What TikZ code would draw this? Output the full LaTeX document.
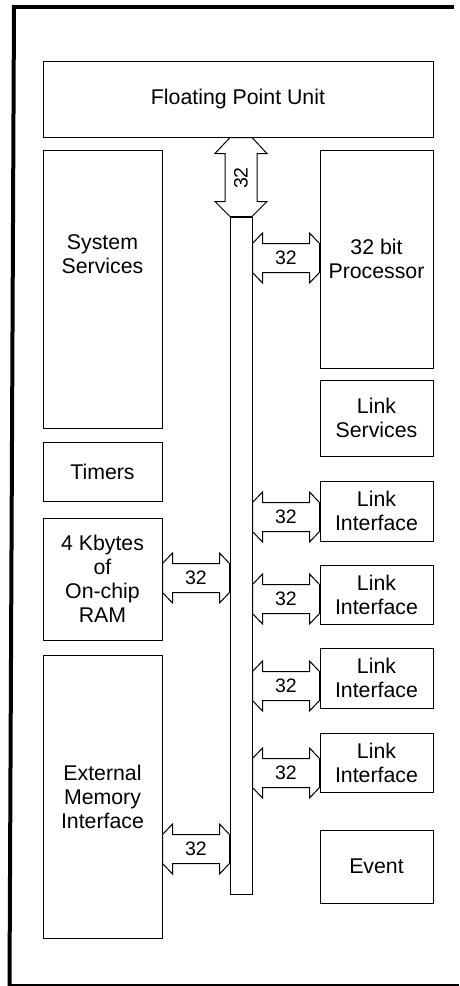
\documentclass[tikz,border=0pt]{standalone}
\usepackage{fontspec}
\setmainfont{Liberation Sans}
\usetikzlibrary{calc}
\newcommand\hbus[5]{%
  \path let \p1=(#1), \p2=(#2), \p3=(0,#3) in
    [arr] (\x1,\y3+14.5pt) -- (\x1+10pt,\y3+25pt) -- (\x1+10pt,\y3+14.5pt)
      -- (\x2-10pt,\y3+14.5pt) -- (\x2-10pt,\y3+25pt) -- (\x2,\y3+14.5pt)
      -- (\x2,\y3-14.5pt) -- (\x2-10pt,\y3-25pt) -- (\x2-10pt,\y3-14.5pt)
      -- (\x1+10pt,\y3-14.5pt) -- (\x1+10pt,\y3-25pt) -- (\x1,\y3-14.5pt) -- cycle
    (\x1/2+\x2/2+#5,\y3) node[lab] (#4) {32};
}
\begin{document}
\begin{tikzpicture}[x=1pt,y=-1pt,
  box/.style={draw, line width=1pt, inner sep=0pt, align=center,
    font=\fontsize{21.3}{24}\selectfont},
  arr/.style={draw, line width=1pt, fill=white, line join=miter},
  lab/.style={font=\fontsize{19.5}{24}\selectfont, inner sep=0pt},
  frame/.style={draw=black}]
\path[fill=white] (0,0) rectangle (459,986);
\useasboundingbox (0,0) rectangle (459,986);

% frame
\draw[frame, line width=4pt] (14,5) -- (9.5,986);
\draw[frame, line width=3.5pt] (12.5,7) -- (454,7);
\draw[frame, line width=2pt] (8,985) -- (459,985);

% boxes
\node[box, minimum width=390pt, minimum height=76pt] (fpu) at (238,99) {Floating Point Unit};
\node[box, minimum width=119pt, minimum height=278pt] (sys) at (102.5,289) {};
\node[font=\fontsize{21.3}{24}\selectfont, align=center, inner sep=0pt] (systxt) at (102.5,254) {System\\Services};
\node[box, minimum width=113pt, minimum height=218pt] (proc) at (376.5,259) {32 bit\\Processor};
\node[box, minimum width=113pt, minimum height=76pt] (lsvc) at (376.5,418) {Link\\Services};
\node[box, minimum width=119pt, minimum height=59pt] (timers) at (102.5,471.5) {Timers};
\node[box, minimum width=113pt, minimum height=60pt] (li1) at (376.5,511) {Link\\Interface};
\node[box, minimum width=119pt, minimum height=122pt] (ram) at (102.5,579) {4 Kbytes\\of\\On-chip\\RAM};
\node[box, minimum width=113pt, minimum height=59pt] (li2) at (376.5,594.5) {Link\\Interface};
\node[box, minimum width=113pt, minimum height=60pt] (li3) at (376.5,678) {Link\\Interface};
\node[box, minimum width=119pt, minimum height=283pt] (ext) at (102.5,796.5) {External\\Memory\\Interface};
\node[box, minimum width=113pt, minimum height=59pt] (li4) at (376.5,762.5) {Link\\Interface};
\node[box, minimum width=113pt, minimum height=73pt] (event) at (376.5,866.5) {Event};
\node[box, minimum width=22pt, minimum height=677pt] (bus) at (241,555.5) {};

% vertical bus arrow to FPU
\path let \p1=(fpu.south), \p2=(bus.north) in
  [arr] (\x2-11pt,\y1) -- (\x2-26pt,\y1-16pt) -- (\x2-16pt,\y1-16pt)
    -- (\x2-16pt,\y2+15pt) -- (\x2-26pt,\y2+15pt) -- (\x2-11pt,\y2)
    -- (\x2+11pt,\y2) -- (\x2+26pt,\y2+15pt) -- (\x2+16pt,\y2+15pt)
    -- (\x2+16pt,\y1-16pt) -- (\x2+26pt,\y1-16pt) -- (\x2+11pt,\y1) -- cycle;
\node[lab, rotate=90] (lv) at (241,178) {32};

% horizontal bus arrows
\hbus{bus.east}{proc.west}{258}{l1}{0pt}
\hbus{bus.east}{li1.west}{517}{l2}{0pt}
\hbus{ram.east}{bus.west}{578}{l3}{0pt}
\hbus{bus.east}{li2.west}{599}{l4}{0pt}
\hbus{bus.east}{li3.west}{686}{l5}{0pt}
\hbus{bus.east}{li4.west}{773}{l6}{0pt}
\hbus{ext.east}{bus.west}{849}{l7}{0pt}
\end{tikzpicture}
\end{document}
